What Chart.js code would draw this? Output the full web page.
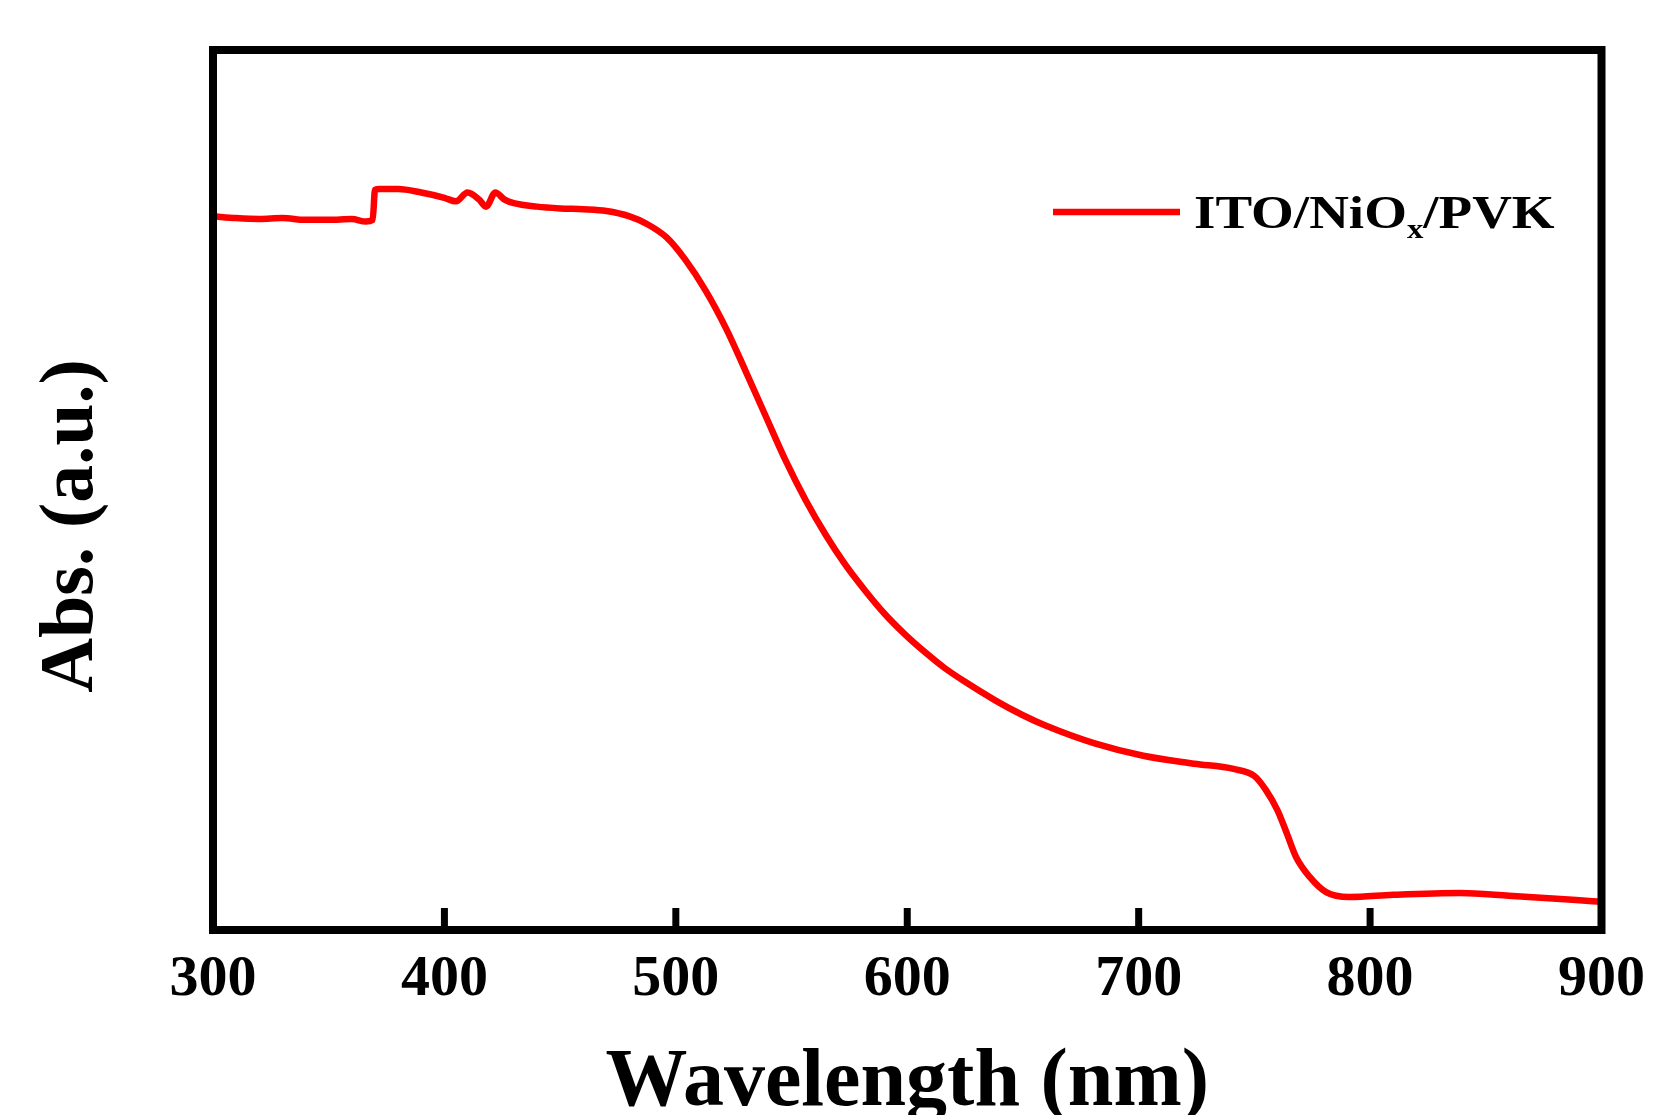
<!DOCTYPE html>
<html><head><meta charset="utf-8">
<script src="https://cdn.jsdelivr.net/npm/chart.js@4.4.0/dist/chart.umd.min.js"></script>
<style>html,body{margin:0;padding:0;background:#fff;}#wrap{width:1660px;height:1115px;}</style>
</head><body><div id="wrap"><canvas id="c" width="1660" height="1115"></canvas></div>
<script>
const wavelengths = [300,310,320,330,340,350,360,366,369,370,372,380,390,400,405,410,415,418,422,426,430,440,450,460,470,480,487,496,504,513,522,530,539,547,556,565,573,582,590,599,608,616,625,638,650,660,681,702,724,741,750,755,760,764,768,774,781,791,810,839,860,889,900];
const absorbance = [81.1,80.9,80.8,80.9,80.7,80.7,80.8,80.5,80.7,84.1,84.2,84.2,83.8,83.2,82.8,83.8,83.0,82.2,83.8,83.0,82.6,82.2,82.0,81.9,81.7,81.1,80.3,78.7,76.2,72.6,68.2,63.6,58.3,53.6,48.9,44.8,41.6,38.5,36.0,33.6,31.5,29.8,28.2,26.1,24.4,23.2,21.2,19.8,18.9,18.3,17.5,15.9,13.6,11.0,8.3,6.0,4.3,3.75,4.0,4.2,3.9,3.4,3.2];
const xTickValues = [300,400,500,600,700,800,900];
const legendParts = ['ITO/NiO','x','/PVK'];
const xTitle = 'Wavelength (nm)';
const yTitle = 'Abs. (a.u.)';

const FONT = "'Liberation Serif','Times New Roman',serif";

const framePlugin = {
  id: 'frame',
  afterDatasetsDraw(chart) {
    const {ctx, chartArea: a, scales: {x}} = chart;
    ctx.save();
    ctx.strokeStyle = '#000';
    ctx.lineWidth = 8;
    ctx.strokeRect(a.left, a.top, a.right - a.left, a.bottom - a.top);
    ctx.lineWidth = 7;
    xTickValues.forEach(v => {
      const px = x.getPixelForValue(v);
      ctx.beginPath();
      ctx.moveTo(px, a.bottom);
      ctx.lineTo(px, a.bottom - 22);
      ctx.stroke();
    });
    // y axis title (placed slightly below centre, as in the original figure)
    ctx.save();
    ctx.translate(72, 526);
    ctx.rotate(-Math.PI / 2);
    ctx.fillStyle = '#000';
    ctx.font = "bold 76px " + FONT;
    ctx.textAlign = 'center';
    ctx.textBaseline = 'middle';
    ctx.fillText(yTitle, 0, 0);
    ctx.restore();
    // legend
    const ly = 212;
    ctx.strokeStyle = '#ff0000';
    ctx.lineWidth = 6.5;
    ctx.beginPath();
    ctx.moveTo(1053, ly);
    ctx.lineTo(1180, ly);
    ctx.stroke();
    ctx.fillStyle = '#000';
    ctx.textBaseline = 'alphabetic';
    ctx.textAlign = 'left';
    ctx.translate(1194, 228);
    ctx.scale(1.17, 1);
    let tx = 0;
    ctx.font = "bold 47px " + FONT;
    ctx.fillText(legendParts[0], tx, 0);
    tx += ctx.measureText(legendParts[0]).width;
    ctx.font = "bold 28px " + FONT;
    ctx.fillText(legendParts[1], tx, 10);
    tx += ctx.measureText(legendParts[1]).width;
    ctx.font = "bold 47px " + FONT;
    ctx.fillText(legendParts[2], tx, 0);
    ctx.restore();
  }
};

new Chart(document.getElementById('c'), {
  type: 'line',
  data: {
    datasets: [{
      label: legendParts.join(''),
      data: wavelengths.map((w, i) => ({x: w, y: absorbance[i]})),
      borderColor: '#ff0000',
      borderWidth: 6.5,
      pointRadius: 0,
      fill: false,
      cubicInterpolationMode: 'monotone'
    }]
  },
  options: {
    responsive: false,
    devicePixelRatio: 1,
    animation: false,
    layout: {padding: {top: 50, right: 51, left: 0, bottom: 0}},
    plugins: {legend: {display: false}, tooltip: {enabled: false}},
    scales: {
      x: {
        type: 'linear', min: 300, max: 900,
        grid: {display: false, drawTicks: false},
        border: {display: false},
        ticks: {stepSize: 100, padding: 15, color: '#000', font: {family: FONT, size: 58, weight: 'bold'}},
        title: {display: true, text: xTitle, color: '#000', font: {family: FONT, size: 82, weight: 'bold', lineHeight: 0.75}, padding: {top: 30, bottom: 0}},
        afterFit(s) { s.height = 185; }
      },
      y: {
        min: 0, max: 100,
        grid: {display: false, drawTicks: false},
        border: {display: false},
        ticks: {display: false},
        title: {display: false, text: yTitle},
        afterFit(s) { s.width = 213; }
      }
    }
  },
  plugins: [framePlugin]
});
</script></body></html>
